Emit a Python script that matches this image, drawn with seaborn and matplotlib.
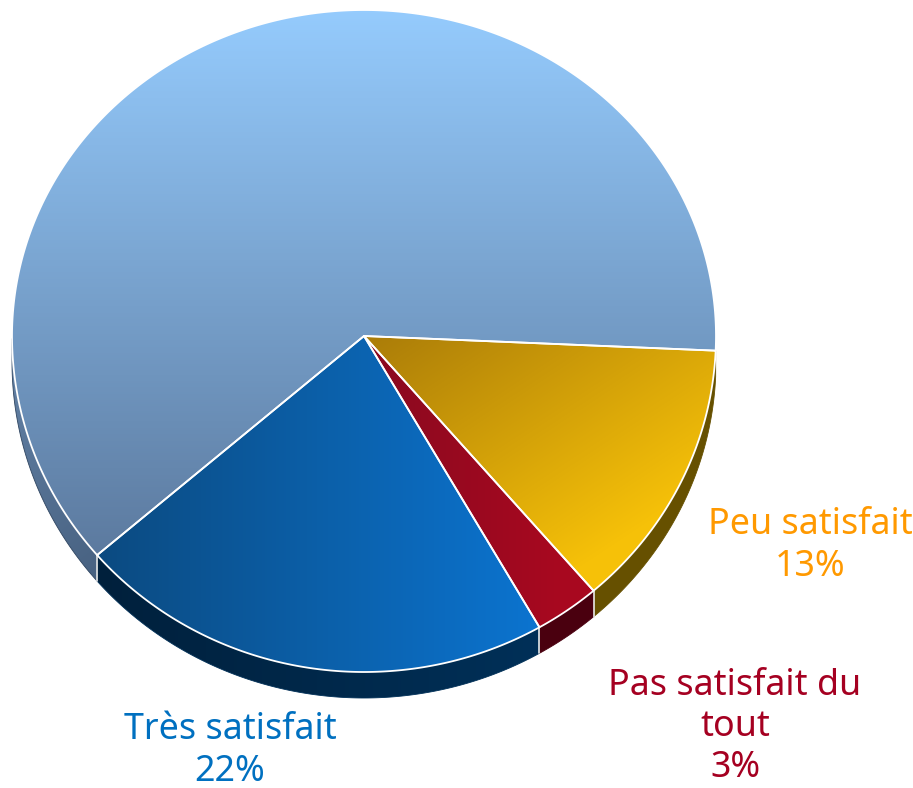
import numpy as np
import seaborn as sns
import matplotlib.pyplot as plt
from matplotlib.patches import Polygon

categories = ["", "Peu satisfait", "Pas satisfait du\ntout", "Très satisfait"]
values = [62, 13, 3, 22]
text_colors = ["#ffffff", "#ff9900", "#a50021", "#0070c0"]

sns.set_theme(style="white")
plt.rcParams["font.family"] = ["Noto Sans", "DejaVu Sans"]

# pie centre and radii in pixels (top half is a bit flatter, the disc is tilted)
cx, cy = 364, 336
rx, ry_top, ry_bot = 352, 326, 336
depth = 26
W, H = 913, 788

# (start colour, end colour, gradient direction in px, gradient range)
face_style = [
    ("#95cbfd", "#5c7a9f", (0, 1), (10, 555)),
    ("#a87a08", "#f6c108", (0.55, 0.83), (470, 790)),
    ("#8a0a20", "#a8081f", (1, 0), (370, 560)),
    ("#0c4a80", "#0b74d0", (1, 0), (94, 540)),
]
wall_style = [
    ("#6f8fb5", "#2f4560", (0.6, 0.8), (200, 720)),
    ("#665000", "#665000", (1, 0), (0, 1)),
    ("#4a000f", "#4a000f", (1, 0), (0, 1)),
    ("#00203c", "#003058", (1, 0), (94, 540)),
]


def to_px(theta):
    t = np.radians(theta)
    s = np.sin(t)
    y = cy - np.where(s > 0, ry_top, ry_bot) * s
    return np.column_stack([cx + rx * np.cos(t), y])


def fill_gradient(ax, poly, style):
    c0, c1, d, (lo, hi) = style
    cmap = sns.blend_palette([c0, c1], as_cmap=True)
    xx, yy = np.meshgrid(np.arange(W), np.arange(H))
    grad = np.clip((xx * d[0] + yy * d[1] - lo) / (hi - lo), 0, 1)
    im = ax.imshow(grad, cmap=cmap, vmin=0, vmax=1, extent=(0, W, H, 0),
                   interpolation="bilinear", zorder=poly.get_zorder(), aspect="auto")
    im.set_clip_path(poly)


fig = plt.figure(figsize=(9.13, 7.88), dpi=100)
ax = fig.add_axes([0, 0, 1, 1])

# pie gives the angles, the tilted faces are then built from them
wedges, _ = ax.pie(values, startangle=220.7, counterclock=False)
for w in wedges:
    w.set_visible(False)

for i, w in enumerate(wedges):
    # side wall, only the part on the lower half can be seen
    th = np.linspace(w.theta1, w.theta2, 400)
    keep = np.sin(np.radians(th)) < 0
    if w.theta2 > 180:
        keep &= th > 0
    arc = to_px(th[keep])
    pts = np.vstack([arc, arc[::-1] + [0, depth]])
    wall = Polygon(pts, closed=True, fc="none", ec="none", zorder=2)
    ax.add_patch(wall)
    fill_gradient(ax, wall, wall_style[i])
    ax.add_patch(Polygon(pts, closed=True, fc="none", ec=wall_style[i][1], lw=0.6, zorder=2.1))

for i, w in enumerate(wedges):
    arc = to_px(np.linspace(w.theta1, w.theta2, 400))
    pts = np.vstack([[cx, cy], arc])
    face = Polygon(pts, closed=True, fc="none", ec="none", zorder=3)
    ax.add_patch(face)
    fill_gradient(ax, face, face_style[i])
    ax.add_patch(Polygon(pts, closed=True, fc="none", ec="white", lw=1.3, zorder=4,
                         joinstyle="round"))
    # white seam on the wall at the end of a wedge
    end = to_px(np.array([w.theta1]))[0]
    if np.sin(np.radians(w.theta1)) < -0.1:
        ax.plot([end[0], end[0]], [end[1], end[1] + depth], color="#e8e8e8", lw=1.2, zorder=2.5)

label_pos = [None, (810, 546), (735, 727), (230, 751)]
for name, val, col, pos in zip(categories, values, text_colors, label_pos):
    if pos is None:
        continue
    ax.text(pos[0], pos[1], f"{name}\n{val}%", color=col, fontsize=25.8, ha="center",
            va="center", linespacing=1.2, zorder=5)

ax.set_aspect("auto")
ax.set_xlim(0, W)
ax.set_ylim(H, 0)
ax.axis("off")
fig.savefig("out.png", dpi=100, facecolor="white")
